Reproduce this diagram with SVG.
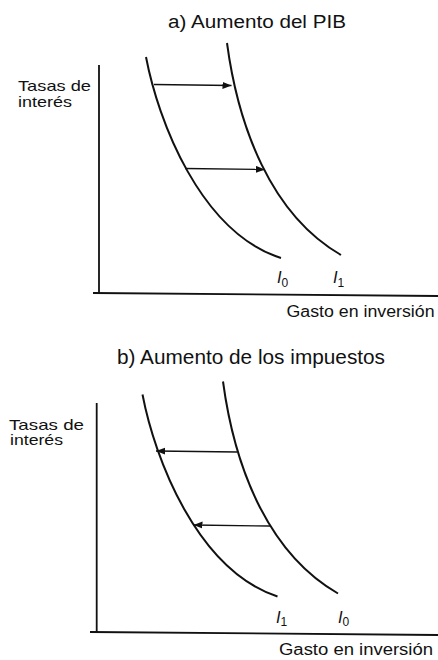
<svg xmlns="http://www.w3.org/2000/svg" width="438" height="660" viewBox="0 0 438 660">
<style>
.t{font-family:"Liberation Sans",Arial,sans-serif;fill:#111}
.ttl{font-size:18px}
.ax{font-size:15px}
.lbl{font-family:"Liberation Sans",Arial,sans-serif;font-style:italic;font-size:16.5px;fill:#111}
.sub{font-size:12px;font-style:normal}
.axis{fill:none;stroke:#111;stroke-width:1.8}
.curve{fill:none;stroke:#111;stroke-width:2}
.arr{fill:none;stroke:#111;stroke-width:1.3;marker-end:url(#ah)}
</style>
<defs>
<marker id="ah" markerUnits="userSpaceOnUse" markerWidth="10" markerHeight="8" refX="9" refY="3.5" orient="auto">
<path d="M0,0 L9,3.5 L0,7 Z" fill="#111"/>
</marker>
</defs>
<rect width="438" height="660" fill="#fff"/>

<g id="panel-a">
<text class="t ttl" x="168" y="27.5" textLength="178" lengthAdjust="spacingAndGlyphs">a) Aumento del PIB</text>
<g id="a-axes">
<path class="axis" d="M99,65 L99,293 M93,293 L438,296"/>
<text class="t ax" x="18" y="90.5" textLength="73" lengthAdjust="spacingAndGlyphs">Tasas de</text>
<text class="t ax" x="18" y="106.5" textLength="54" lengthAdjust="spacingAndGlyphs">interés</text>
<text class="t ax" x="286.5" y="317" style="font-size:16px" textLength="148" lengthAdjust="spacingAndGlyphs">Gasto en inversión</text>
</g>
<g id="a-I0">
<path class="curve" d="M146,57 C158,120 200,232 281,258"/>
<text class="lbl" x="277" y="283">I<tspan class="sub" dy="4">0</tspan></text>
</g>
<g id="a-I1">
<path class="curve" d="M227,43 C238,125 270,214 341,255"/>
<text class="lbl" x="333" y="283">I<tspan class="sub" dy="4">1</tspan></text>
</g>
<g id="a-connectors">
<path class="arr" d="M154,84.5 L231.5,85.5"/>
<path class="arr" d="M185,168.5 L265,169.5"/>
</g>
</g>

<g id="panel-b">
<text class="t ttl" x="117" y="363.5" style="font-size:20px" textLength="268" lengthAdjust="spacingAndGlyphs">b) Aumento de los impuestos</text>
<g id="b-axes">
<path class="axis" d="M96.7,403 L96.7,632 M90,632 L438,635"/>
<text class="t ax" x="9" y="429.5" textLength="75" lengthAdjust="spacingAndGlyphs">Tasas de</text>
<text class="t ax" x="10" y="445" textLength="53" lengthAdjust="spacingAndGlyphs">interés</text>
<text class="t ax" x="279" y="655" style="font-size:16px" textLength="154" lengthAdjust="spacingAndGlyphs">Gasto en inversión</text>
</g>
<g id="b-I1">
<path class="curve" d="M142.5,394.5 C154.5,457.5 196.5,569.5 277.5,596.5"/>
<text class="lbl" x="276" y="623">I<tspan class="sub" dy="3">1</tspan></text>
</g>
<g id="b-I0">
<path class="curve" d="M223,381.5 C234,463.5 266,552 338,593.5"/>
<text class="lbl" x="338" y="623">I<tspan class="sub" dy="3">0</tspan></text>
</g>
<g id="b-connectors">
<path class="arr" d="M237,452 L156,451"/>
<path class="arr" d="M270,526 L193.5,525"/>
</g>
</g>
</svg>
